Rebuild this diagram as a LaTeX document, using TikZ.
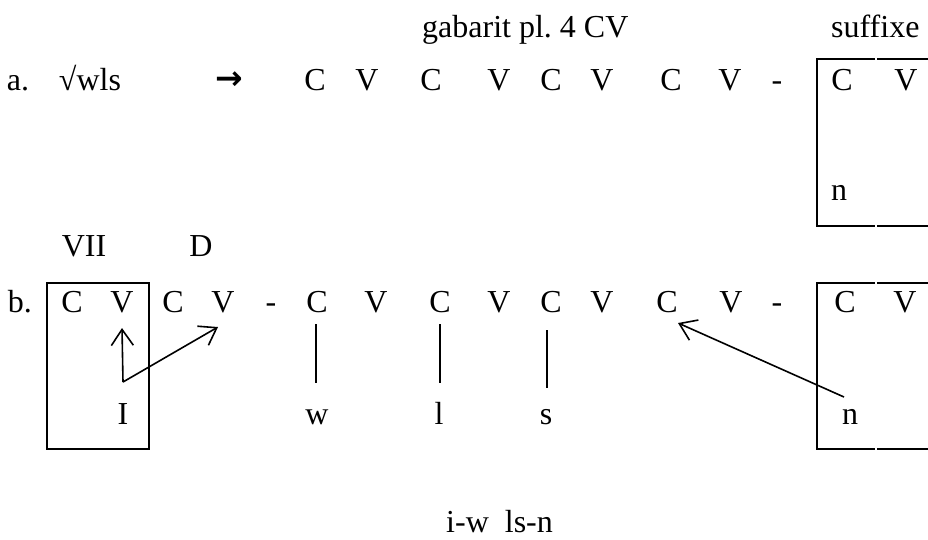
\documentclass[tikz,border=0pt]{standalone}
\usepackage{fontspec}
\setmainfont{Liberation Serif}
\usetikzlibrary{arrows.meta}
\frenchspacing
\begin{document}
\begin{tikzpicture}[x=1pt,y=-1pt,
  t/.style={anchor=base,inner sep=0pt,font=\fontsize{32}{38}\selectfont},
  tl/.style={anchor=base west,inner sep=0pt,font=\fontsize{32}{38}\selectfont},
  boxline/.style={line width=1.2pt},
  link/.style={line width=1.3pt},
  mv/.style={line width=1.6pt,-{Straight Barb[length=16pt,width=22pt,line width=1.6pt]}}]
\useasboundingbox (0,0) rectangle (928,539);
% top labels
\node[tl] (gab) at (422,37) {gabarit pl. 4 CV};
\node[tl] (suf) at (831,37) {suffixe};
% row a
\node[t] (alab) at (18,90) {a.};
\node[t] (root) at (90,90) {√wls};
\node[t] (arr) at (229,89) {\fontspec{DejaVu Sans Bold}\fontsize{33}{36}\selectfont →};
\node[t] (a1) at (315,90) {C};
\node[t] (a2) at (367,90) {V};
\node[t] (a3) at (431,90) {C};
\node[t] (a4) at (499,90) {V};
\node[t] (a5) at (551,90) {C};
\node[t] (a6) at (602,90) {V};
\node[t] (a7) at (671,90) {C};
\node[t] (a8) at (730,90) {V};
\node[t] (ah) at (777,90) {-};
\node[t] (a9) at (842,90) {C};
\node[t] (a10) at (906,90) {V};
\node[t] (an) at (839,200) {n};
% box a
\coordinate (atl) at (817,59);
\coordinate (abl) at (817,226);
\draw[boxline] (875,59) -- (atl) -- (abl) -- (875,226);
\draw[boxline] (877,59) -- (928,59);
\draw[boxline] (877,226) -- (928,226);
% row b labels
\node[t] (vii) at (84,256) {VII};
\node[t] (dd) at (201,256) {D};
% row b
\node[t] (blab) at (20,312) {b.};
\node[t] (b1) at (72,312) {C};
\node[t] (b2) at (122,312) {V};
\node[t] (b3) at (173,312) {C};
\node[t] (b4) at (223,312) {V};
\node[t] (bh1) at (271,312) {-};
\node[t] (b5) at (317,312) {C};
\node[t] (b6) at (376,312) {V};
\node[t] (b7) at (440,312) {C};
\node[t] (b8) at (499,312) {V};
\node[t] (b9) at (551,312) {C};
\node[t] (b10) at (602,312) {V};
\node[t] (b11) at (667,312) {C};
\node[t] (b12) at (731,312) {V};
\node[t] (bh2) at (777,312) {-};
\node[t] (b13) at (845,312) {C};
\node[t] (b14) at (905,312) {V};
% melodies
\node[t] (mI) at (123,424) {I};
\node[t] (mw) at (317,424) {w};
\node[t] (ml) at (439,424) {l};
\node[t] (ms) at (546,424) {s};
\node[t] (mn) at (850,424) {n};
% boxes b
\draw[boxline] (47,283) rectangle (149,449);
\draw[boxline] (875,283) -- (817,283) -- (817,449) -- (875,449);
\draw[boxline] (877,283) -- (928,283);
\draw[boxline] (877,449) -- (928,449);
% association lines
\draw[link] ([xshift=-1pt,yshift=-12pt]b5.base) -- ([xshift=-1pt,yshift=41pt]mw.base);
\draw[link] ([yshift=-12pt]b7.base) -- ([xshift=1pt,yshift=41pt]ml.base);
\draw[link] ([xshift=-4pt,yshift=-18pt]b9.base) -- ([xshift=1pt,yshift=36pt]ms.base);
% movement arrows
\coordinate (istart) at ([yshift=42pt]mI.base);
\draw[mv] (istart) -- ([yshift=-16pt]b2.base);
\draw[mv] (istart) -- ([xshift=-5pt,yshift=-15pt]b4.base);
\draw[mv] ([xshift=-6pt,yshift=27pt]mn.base) -- ([xshift=11pt,yshift=-11pt]b11.base);
% result
\node[tl] (res) at (446,532) {i-w\hspace{0.5em}ls-n};
\end{tikzpicture}
\end{document}
